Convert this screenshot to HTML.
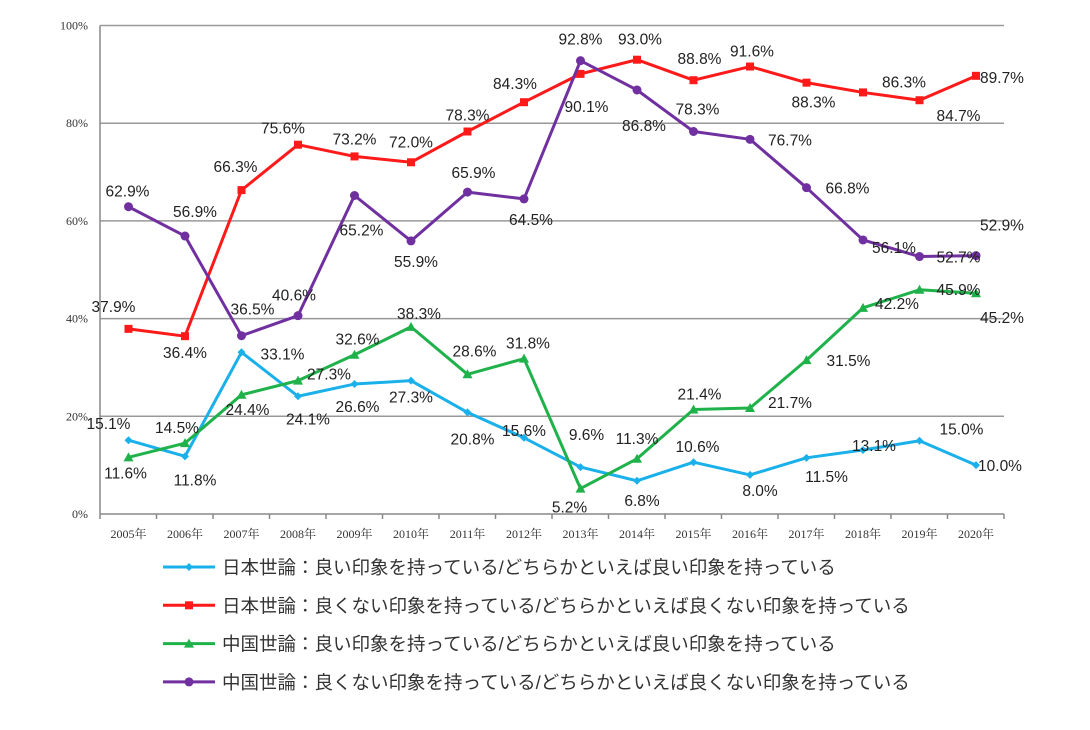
<!DOCTYPE html>
<html><head><meta charset="utf-8"><style>
body{margin:0;background:#fff;width:1090px;height:725px;overflow:hidden}
text{font-family:"Liberation Sans","Noto Sans CJK JP",sans-serif}
.ax{font-family:"Liberation Serif","Noto Serif CJK SC",serif;font-size:12px;fill:#333}
.lbl{font-size:15.5px;fill:#222;text-anchor:middle}
.lg{font-size:18.5px;fill:#333}
</style></head><body>
<svg id="chart" width="1090" height="725"></svg>
<script>
const years=["2005年","2006年","2007年","2008年","2009年","2010年","2011年","2012年","2013年","2014年","2015年","2016年","2017年","2018年","2019年","2020年"];
const yTicks=[0,20,40,60,80,100];
const jpGood=[15.1,11.8,33.1,24.1,26.6,27.3,20.8,15.6,9.6,6.8,10.6,8.0,11.5,13.1,15.0,10.0];
const jpBad=[37.9,36.4,66.3,75.6,73.2,72.0,78.3,84.3,90.1,93.0,88.8,91.6,88.3,86.3,84.7,89.7];
const cnGood=[11.6,14.5,24.4,27.3,32.6,38.3,28.6,31.8,5.2,11.3,21.4,21.7,31.5,42.2,45.9,45.2];
const cnBad=[62.9,56.9,36.5,40.6,65.2,55.9,65.9,64.5,92.8,86.8,78.3,76.7,66.8,56.1,52.7,52.9];
const legendLabels=["日本世論：良い印象を持っている/どちらかといえば良い印象を持っている","日本世論：良くない印象を持っている/どちらかといえば良くない印象を持っている","中国世論：良い印象を持っている/どちらかといえば良い印象を持っている","中国世論：良くない印象を持っている/どちらかといえば良くない印象を持っている"];
// label offsets (layout, not data)
const offJG=[[-20,-16],[10,24],[41,2],[10,23],[3,23],[0,17],[5,27],[0,-7],[6,-32],[5,20],[4,-15],[10,16],[20,19],[11,-4],[42,-11],[24,1]];
const offJR=[[-15,-22],[0,17],[-6,-23],[-15,-16],[0,-17],[0,-20],[0,-16],[-9,-18],[6,33],[3,-20],[6,-21],[2,-15],[7,20],[41,-10],[39,16],[26,2]];
const offCG=[[-3,16],[-8,-15],[6,15],[31,-6],[3,-15],[8,-13],[7,-23],[4,-15],[-11,19],[0,-20],[6,-15],[40,-5],[42,1],[34,-4],[39,0],[26,25]];
const offCR=[[-1,-15],[10,-24],[11,-26],[-4,-20],[7,35],[5,21],[6,-19],[7,21],[0,-21],[7,36],[4,-22],[40,1],[41,1],[31,8],[39,1],[26,-30]];
const svg=document.getElementById('chart');
const NS='http://www.w3.org/2000/svg';
const X=i=>128.5+56.5*i, Y=v=>514-v*4.885;
function el(t,a,p){const e=document.createElementNS(NS,t);for(const k in a)e.setAttribute(k,a[k]);(p||svg).appendChild(e);return e;}
yTicks.forEach(t=>{
 const g=el('line',{x1:100,x2:1004,y1:Y(t),y2:Y(t),stroke:t===0?'#888':'#999','stroke-width':1.5});
 
 
 const tx=el('text',{x:88,y:Y(t)+4,class:'ax','text-anchor':'end'});tx.textContent=t+'%';
 
 
});
const ya=el('line',{x1:100,x2:100,y1:Y(100),y2:Y(0),stroke:'#888','stroke-width':1.5});


years.forEach((y,i)=>{
 el('line',{x1:100+56.5*i,x2:100+56.5*i,y1:514,y2:519,stroke:'#888','stroke-width':1.5});
 const tx=el('text',{x:X(i),y:538,class:'ax','text-anchor':'middle'});tx.textContent=y;
 
 
});
el('line',{x1:100+56.5*16,x2:100+56.5*16,y1:514,y2:519,stroke:'#888','stroke-width':1.5});
function marker(g,type,x,y,c){
 if(type==='sq')el('rect',{x:x-4,y:y-4,width:8,height:8,fill:c},g);
 else if(type==='tri')el('path',{d:`M${x},${y-5}L${x+5},${y+4}L${x-5},${y+4}Z`,fill:c},g);
 else if(type==='circ')el('circle',{cx:x,cy:y,r:4.5,fill:c},g);
 else el('path',{d:`M${x},${y-4}L${x+4},${y}L${x},${y+4}L${x-4},${y}Z`,fill:c},g);
}
const series=[[jpGood,'#1ab0ea','dia',offJG,'jp-good'],[jpBad,'#ff1a1a','sq',offJR,'jp-bad'],[cnGood,'#1fb24a','tri',offCG,'cn-good'],[cnBad,'#7030a0','circ',offCR,'cn-bad']];
series.forEach(([d,c,m,off,n])=>{
 const g=el('g',{});
 
 
 el('polyline',{points:d.map((v,i)=>X(i)+','+Y(v)).join(' '),fill:'none',stroke:c,'stroke-width':3,'stroke-linejoin':'round'},g);
 d.forEach((v,i)=>marker(g,m,X(i),Y(v),c));
});
series.forEach(([d,c,m,off,n])=>{
 d.forEach((v,i)=>{
  const t=el('text',{x:X(i)+off[i][0],y:Y(v)+off[i][1]+5,class:'lbl'});
  t.textContent=v.toFixed(1)+'%';
  
  
 });
});
series.forEach(([d,c,m,off,n],k)=>{
 const yy=567+38.3*k;
 const g=el('g',{});
 
 
 el('line',{x1:163,x2:215,y1:yy,y2:yy,stroke:c,'stroke-width':3},g);
 marker(g,m,189,yy,c);
 const t=el('text',{x:222,y:yy+7,class:'lg'},g);t.textContent=legendLabels[k];
});
</script>
</body></html>
